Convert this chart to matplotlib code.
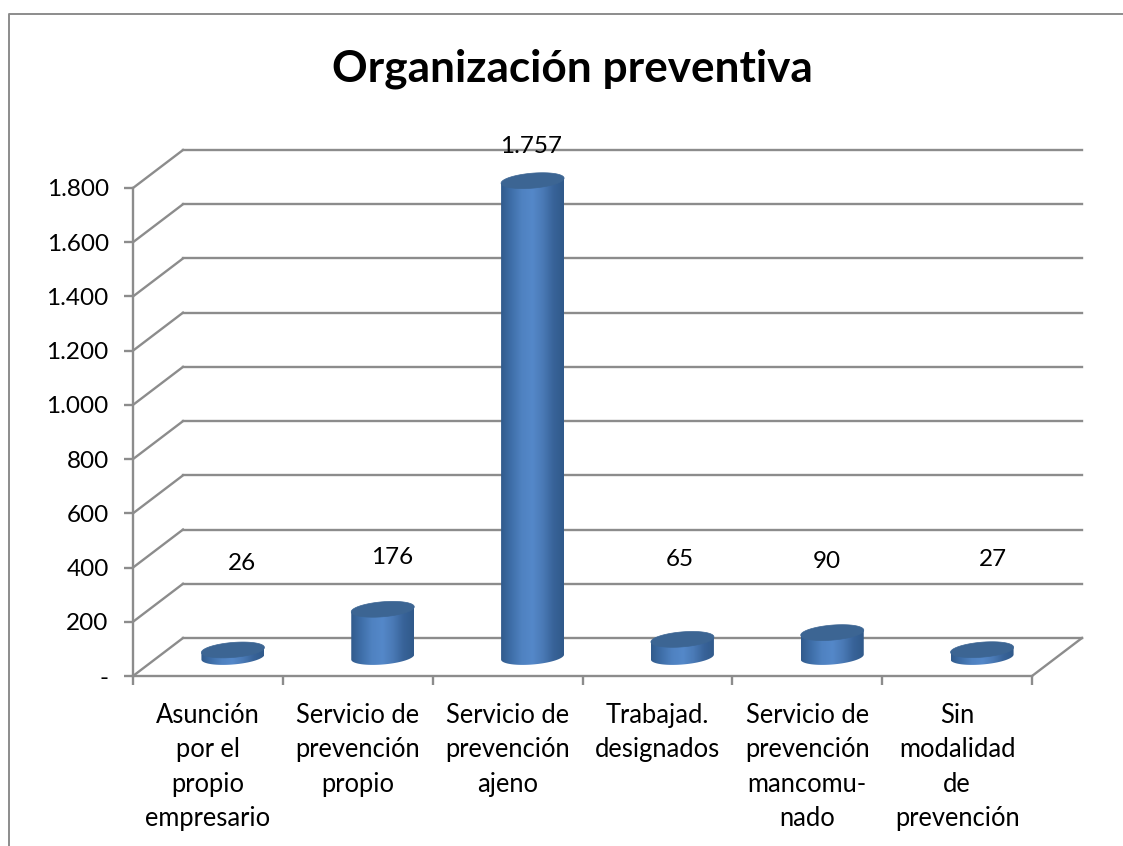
import numpy as np
import matplotlib
matplotlib.use("Agg")
import matplotlib.pyplot as plt
from matplotlib.colors import LinearSegmentedColormap
from matplotlib.lines import Line2D
from matplotlib.patches import Polygon

categories = [
    "Asunción\npor el\npropio\nempresario",
    "Servicio de\nprevención\npropio",
    "Servicio de\nprevención\najeno",
    "Trabajad.\ndesignados",
    "Servicio de\nprevención\nmancomu-\nnado",
    "Sin\nmodalidad\nde\nprevención",
]
values = [26, 176, 1757, 65, 90, 27]
value_labels = ["26", "176", "1.757", "65", "90", "27"]
y_ticks = [0, 200, 400, 600, 800, 1000, 1200, 1400, 1600, 1800]
y_labels = ["-", "200", "400", "600", "800", "1.000", "1.200", "1.400", "1.600", "1.800"]

W, H = 1123, 846
GRAY = "#8c8c8c"
LW = 1.7
plt.rcParams["font.family"] = ["Lato", "DejaVu Sans"]
FS = 17.5

fig = plt.figure(figsize=(W / 100, H / 100), dpi=100)
ax = fig.add_axes([133 / W, (H - 676) / H, 899 / W, 488 / H])
ax.patch.set_alpha(0)

# 3d look: px to data
px_x = 6 / 899
px_y = 1800 / 488
dx = 50 * px_x
dy = 38 * px_y

# back wall + side wall
for v in y_ticks:
    ax.plot([dx, 6 + dx], [v + dy, v + dy], color=GRAY, lw=LW, clip_on=False, zorder=1)
    ax.plot([0, dx], [v, v + dy], color=GRAY, lw=LW, clip_on=False, zorder=1)
ax.plot([6, 6 + dx], [0, dy], color=GRAY, lw=LW, clip_on=False, zorder=1)

cmap = LinearSegmentedColormap.from_list(
    "cyl", ["#315b8c", "#3f6fa9", "#4f82c1", "#5488c9", "#4a7ab6", "#386399", "#30598a"]
)
grad = np.linspace(0, 1, 256).reshape(1, -1)
t = np.linspace(0, 2 * np.pi, 120)
a = 31.5 * px_x
b = 7.5 * px_y
tilt = 2.5 * px_y

for i, v in enumerate(values):
    cx = i + 0.5 + dx / 2
    base = dy / 2
    ex = a * np.cos(t)
    ey = b * np.sin(t) + tilt * np.cos(t)
    # body = swept ellipse
    lower = t > np.pi
    order = np.argsort(ex[lower])
    bot = np.column_stack([cx + ex[lower][order], base + ey[lower][order]])
    top = np.column_stack([cx + ex, base + v + ey])
    body = np.vstack([bot, [cx + a, base + v + tilt], [cx - a, base + v - tilt]])
    clip = Polygon(body, closed=True, transform=ax.transData, fc="none", ec="none")
    ax.add_patch(clip)
    clip.set_clip_on(False)
    im = ax.imshow(grad, cmap=cmap, aspect="auto", zorder=3,
                   extent=[cx - a, cx + a, base - 2 * b, base + v + 2 * b])
    im.set_clip_box(fig.bbox)
    im.set_clip_path(clip)
    ax.add_patch(Polygon(top, closed=True, fc="#3c6593", ec="#3c6593", lw=0.5,
                         zorder=4, clip_on=False))

# data labels
label_x = [242, 392, 531, 680, 827, 993]
label_y = [563, 557, 147, 560, 562, 559]
for s, lx, ly in zip(value_labels, label_x, label_y):
    ax.text((lx - 133) * px_x, (676 - ly) * px_y, s, ha="center", va="center",
            fontsize=FS, color="black", zorder=5, clip_on=False)

ax.set_xlim(0, 6)
ax.set_ylim(0, 1800)
for side in ["top", "right"]:
    ax.spines[side].set_visible(False)
for side in ["left", "bottom"]:
    ax.spines[side].set_color(GRAY)
    ax.spines[side].set_linewidth(LW)

ax.set_yticks(y_ticks, y_labels, fontsize=FS)
ax.tick_params(axis="y", length=6.5, width=LW, color=GRAY, pad=11)
ax.set_xticks(range(7), [""] * 7)
ax.tick_params(axis="x", which="major", length=6.5, width=LW, color=GRAY)
ax.set_xticks(np.arange(6) + 0.5, categories, minor=True, fontsize=18.4, linespacing=1.47)
ax.tick_params(axis="x", which="minor", length=0, pad=19.5)

fig.text(572 / W, 1 - 69 / H, "Organización preventiva", ha="center", va="center",
         fontsize=31.8, fontweight="bold", color="black")

# chart border, cut by the image edge
fig.add_artist(Line2D([9 / W, 9 / W, 1], [0, 1 - 14 / H, 1 - 14 / H], color=GRAY, lw=1.4))

fig.savefig("out.png", dpi=100, facecolor="white")
